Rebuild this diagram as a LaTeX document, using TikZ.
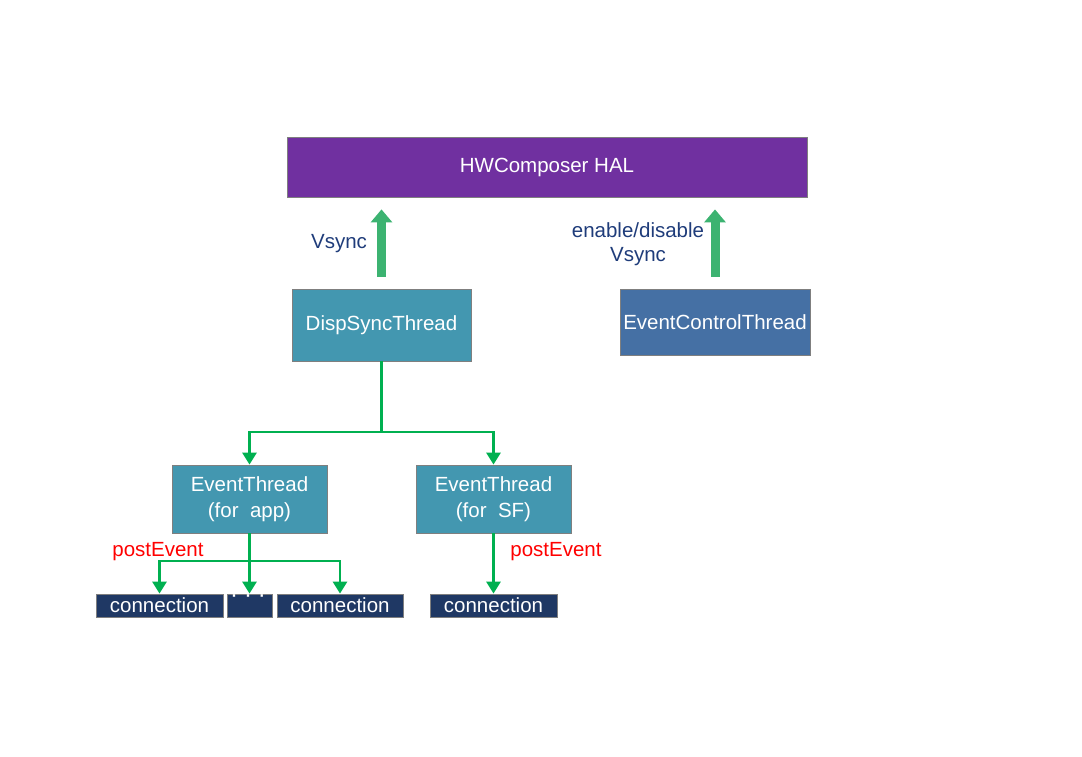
\documentclass[tikz,border=0pt]{standalone}
\usepackage{fontspec}
\setmainfont{Liberation Sans}
\usetikzlibrary{arrows.meta}
\definecolor{halpurple}{HTML}{7030A0}
\definecolor{tealbox}{HTML}{4397B0}
\definecolor{ctrlbox}{HTML}{4570A4}
\definecolor{navybox}{HTML}{1F3864}
\definecolor{biggreen}{HTML}{3CB371}
\definecolor{linegreen}{HTML}{00B050}
\definecolor{labelblue}{HTML}{1F3C7A}
\definecolor{bordergray}{HTML}{7F7F7F}
\tikzset{
  box/.style={draw=bordergray, line width=0.8pt, text=white, inner sep=0pt, align=center,
    font=\fontsize{20.5}{26}\selectfont},
  connbox/.style={box, fill=navybox, minimum height=23pt},
  bigarrow/.style={draw=biggreen, line width=9pt, -{Triangle[width=21pt,length=13pt]}},
  conn/.style={draw=linegreen, line width=2.8pt, -{Triangle[width=14pt,length=12pt]}},
  plain/.style={draw=linegreen, line width=2.8pt},
  bluelabel/.style={text=labelblue, align=center, font=\fontsize{20.5}{24}\selectfont},
  redlabel/.style={text=red, font=\fontsize{20.5}{24}\selectfont},
}
\begin{document}
\begin{tikzpicture}[x=1pt, y=-1pt]
\path[use as bounding box] (0,0) rectangle (1082,757);
% boxes
\node[box, fill=halpurple, minimum width=520pt, minimum height=60pt] (hal) at (547,167) {HWComposer HAL};
\node[box, fill=tealbox, minimum width=179pt, minimum height=72pt] (ds) at (381.5,325) {DispSyncThread};
\node[box, fill=ctrlbox, minimum width=190pt, minimum height=66pt] (ect) at (715,322) {EventControlThread};
\node[box, fill=tealbox, minimum width=155pt, minimum height=68pt] (eta) at (249.5,499) {EventThread\\(for~~app)};
\node[box, fill=tealbox, minimum width=155pt, minimum height=68pt] (ets) at (493.5,499) {EventThread\\(for~~SF)};
\node[connbox, minimum width=127pt] (c1) at (159.5,605.5) {connection};
\node[connbox, minimum width=45pt] (dots) at (249.5,605.5) {};
\node[text=white, inner sep=0pt, font=\fontsize{24}{24}\selectfont] (dotstext) at (248,599) {·\hspace{6pt}·\hspace{6pt}·};
\node[connbox, minimum width=126pt] (c2) at (340,605.5) {connection};
\node[connbox, minimum width=127pt] (c3) at (493.5,605.5) {connection};
% labels
\node[bluelabel] (lvs) at (339,244) {Vsync};
\node[bluelabel] (lev) at (638,244) {enable/disable\\Vsync};
\node[redlabel] (pe1) at (158,552) {postEvent};
\node[redlabel] (pe2) at (556,552) {postEvent};
% big arrows
\draw[bigarrow] ([yshift=12pt]ds.north) -- ([yshift=-12pt]ds.north |- hal.south);
\draw[bigarrow] ([yshift=12pt]ect.north) -- ([yshift=-12pt]ect.north |- hal.south);
% tree
\coordinate (j1) at (381.5,432);
\draw[plain] (ds.south) -- (j1);
\draw[conn] (j1) -| (eta.north);
\draw[conn] (j1) -| (ets.north);
\coordinate (j2) at (249.5,561);
\draw[conn] (eta.south) -- (dots.north);
\draw[conn] (j2) -| (c1.north);
\draw[conn] (j2) -| (c2.north);
\draw[conn] (ets.south) -- (c3.north);
\end{tikzpicture}
\end{document}
